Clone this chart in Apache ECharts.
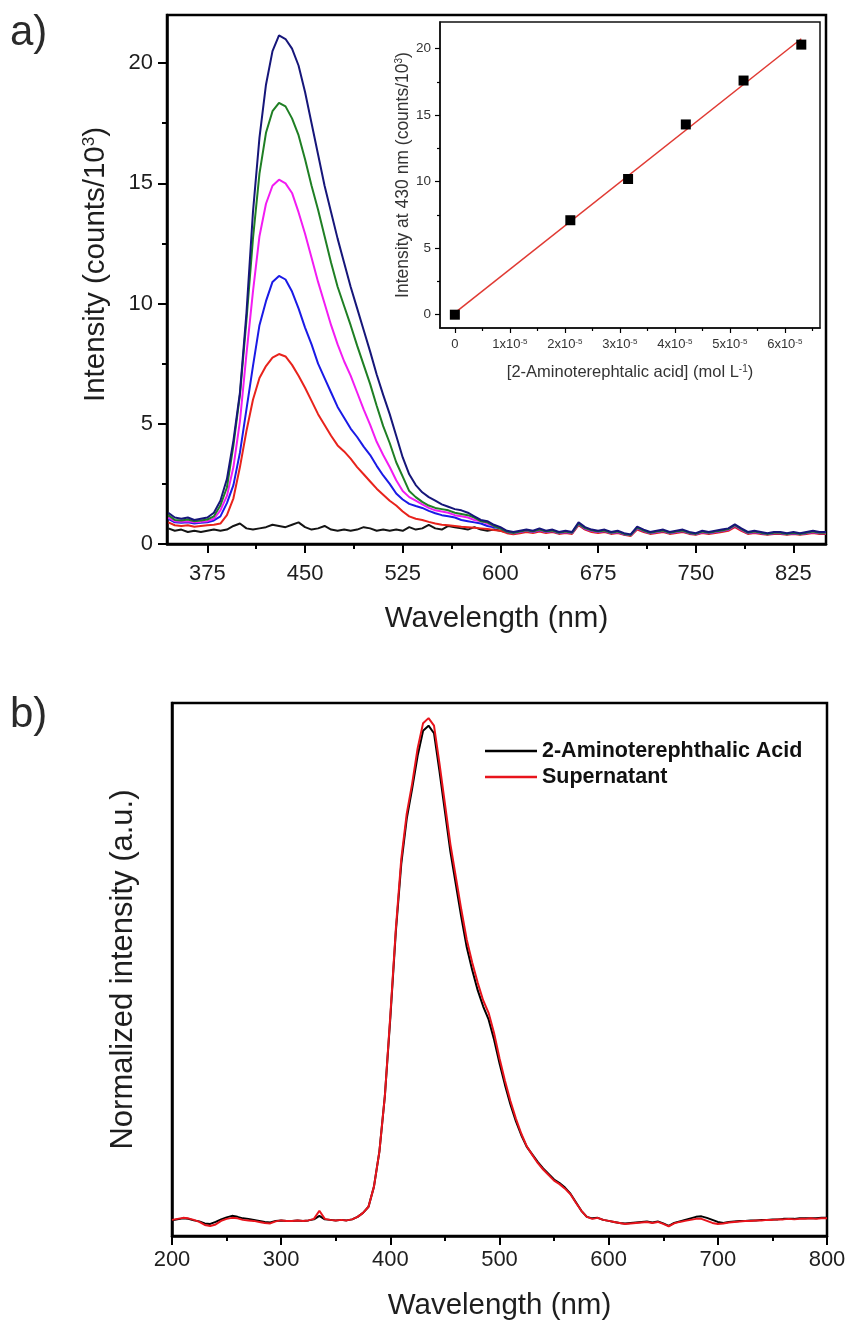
<!DOCTYPE html>
<html>
<head>
<meta charset="utf-8">
<script src="https://cdn.jsdelivr.net/npm/echarts@6/dist/echarts.min.js"></script>
<style>
  html, body { margin: 0; padding: 0; background: #fff; }
  #chart { width: 853px; height: 1324px; }
</style>
</head>
<body>
<div id="chart"></div>
<script>
// ---------- (a) emission spectra at increasing 2-aminoterephthalic acid content ----------
const wavelengthA = [
  345, 350, 355, 360, 365, 370, 375, 380, 385, 390,
  395, 400, 405, 410, 415, 420, 425, 430, 435, 440,
  445, 450, 455, 460, 465, 470, 475, 480, 485, 490,
  495, 500, 505, 510, 515, 520, 525, 530, 535, 540,
  545, 550, 555, 560, 565, 570, 575, 580, 585, 590,
  595, 600, 605, 610, 615, 620, 625, 630, 635, 640,
  645, 650, 655, 660, 665, 670, 675, 680, 685, 690,
  695, 700, 705, 710, 715, 720, 725, 730, 735, 740,
  745, 750, 755, 760, 765, 770, 775, 780, 785, 790,
  795, 800, 805, 810, 815, 820, 825, 830, 835, 840,
  845, 850
];

// intensity in counts/10^3
const blankA = [
  0.65, 0.55, 0.60, 0.50, 0.55, 0.50, 0.55, 0.60, 0.55, 0.60,
  0.75, 0.85, 0.65, 0.60, 0.65, 0.70, 0.80, 0.75, 0.70, 0.80,
  0.90, 0.70, 0.60, 0.65, 0.75, 0.60, 0.55, 0.60, 0.55, 0.60,
  0.70, 0.65, 0.55, 0.60, 0.55, 0.60, 0.55, 0.70, 0.60, 0.65,
  0.80, 0.65, 0.60, 0.75, 0.70, 0.65, 0.60, 0.70, 0.60, 0.55,
  0.60, 0.55, 0.50, 0.45, 0.48, 0.55, 0.50, 0.58, 0.50, 0.55,
  0.45, 0.50, 0.45, 0.82, 0.62, 0.55, 0.50, 0.55, 0.45, 0.50,
  0.40, 0.36, 0.65, 0.55, 0.45, 0.50, 0.55, 0.45, 0.50, 0.55,
  0.45, 0.42, 0.50, 0.45, 0.50, 0.55, 0.60, 0.75, 0.60, 0.45,
  0.50, 0.45, 0.42, 0.45, 0.45, 0.42, 0.45, 0.42, 0.45, 0.50,
  0.45, 0.45
];
const level1A = [
  0.90, 0.78, 0.75, 0.78, 0.72, 0.75, 0.78, 0.80, 0.85, 1.20,
  1.90, 3.20, 4.70, 6.00, 6.90, 7.40, 7.75, 7.90, 7.80, 7.45,
  7.00, 6.50, 5.95, 5.40, 4.95, 4.50, 4.10, 3.85, 3.55, 3.20,
  2.90, 2.60, 2.30, 2.05, 1.80, 1.60, 1.35, 1.15, 1.05, 1.00,
  0.92, 0.85, 0.80, 0.78, 0.75, 0.72, 0.70, 0.68, 0.65, 0.62,
  0.58, 0.55, 0.45, 0.40, 0.45, 0.50, 0.46, 0.52, 0.46, 0.50,
  0.42, 0.46, 0.42, 0.78, 0.60, 0.50, 0.46, 0.50, 0.42, 0.46,
  0.38, 0.33, 0.60, 0.50, 0.42, 0.46, 0.50, 0.42, 0.46, 0.50,
  0.42, 0.38, 0.46, 0.42, 0.46, 0.50, 0.55, 0.70, 0.55, 0.42,
  0.46, 0.42, 0.38, 0.42, 0.42, 0.38, 0.42, 0.38, 0.42, 0.46,
  0.42, 0.42
];
const level2A = [
  1.05, 0.90, 0.88, 0.90, 0.85, 0.88, 0.90, 0.98, 1.15, 1.70,
  2.45, 3.80, 5.60, 7.40, 9.10, 10.1, 10.9, 11.15, 11.0, 10.5,
  9.80, 9.00, 8.30, 7.50, 6.90, 6.30, 5.70, 5.25, 4.80, 4.45,
  4.05, 3.70, 3.25, 2.85, 2.50, 2.10, 1.85, 1.67, 1.58, 1.50,
  1.38, 1.28, 1.20, 1.15, 1.10, 1.00, 0.95, 0.90, 0.85, 0.75,
  0.70, 0.65, 0.50, 0.45, 0.50, 0.55, 0.50, 0.57, 0.50, 0.54,
  0.45, 0.50, 0.45, 0.82, 0.63, 0.55, 0.50, 0.54, 0.45, 0.50,
  0.40, 0.36, 0.65, 0.54, 0.45, 0.50, 0.54, 0.45, 0.50, 0.54,
  0.45, 0.40, 0.50, 0.45, 0.50, 0.54, 0.60, 0.75, 0.60, 0.45,
  0.50, 0.45, 0.40, 0.45, 0.45, 0.40, 0.45, 0.40, 0.45, 0.50,
  0.45, 0.45
];
const level3A = [
  1.10, 0.95, 0.92, 0.95, 0.90, 0.92, 0.95, 1.05, 1.40, 2.00,
  3.20, 5.10, 7.90, 10.5, 12.8, 14.15, 14.9, 15.15, 15.0, 14.6,
  13.8, 12.9, 11.9, 10.9, 10.0, 9.10, 8.30, 7.60, 7.00, 6.30,
  5.60, 4.95, 4.25, 3.70, 3.20, 2.65, 2.20, 1.95, 1.80, 1.65,
  1.50, 1.40, 1.35, 1.30, 1.20, 1.15, 1.10, 1.00, 0.95, 0.85,
  0.75, 0.68, 0.52, 0.45, 0.50, 0.56, 0.50, 0.58, 0.50, 0.55,
  0.46, 0.50, 0.46, 0.84, 0.64, 0.55, 0.50, 0.55, 0.46, 0.50,
  0.41, 0.36, 0.66, 0.55, 0.46, 0.50, 0.55, 0.46, 0.50, 0.55,
  0.46, 0.41, 0.50, 0.46, 0.50, 0.55, 0.60, 0.76, 0.60, 0.46,
  0.50, 0.46, 0.41, 0.46, 0.46, 0.41, 0.46, 0.41, 0.46, 0.50,
  0.46, 0.46
];
const level4A = [
  1.20, 1.00, 0.98, 1.02, 0.95, 0.98, 1.02, 1.15, 1.60, 2.35,
  4.10, 6.20, 9.30, 12.7, 15.4, 17.1, 18.0, 18.35, 18.2, 17.7,
  17.0, 16.0, 14.9, 13.9, 12.8, 11.7, 10.7, 9.90, 9.10, 8.25,
  7.45, 6.65, 5.75, 4.90, 4.20, 3.40, 2.80, 2.20, 1.95, 1.75,
  1.60, 1.50, 1.45, 1.40, 1.30, 1.25, 1.20, 1.10, 0.95, 0.90,
  0.75, 0.65, 0.52, 0.46, 0.52, 0.57, 0.52, 0.60, 0.52, 0.56,
  0.47, 0.52, 0.47, 0.85, 0.66, 0.57, 0.52, 0.56, 0.47, 0.52,
  0.42, 0.37, 0.68, 0.56, 0.47, 0.52, 0.56, 0.47, 0.52, 0.56,
  0.47, 0.42, 0.52, 0.47, 0.52, 0.56, 0.62, 0.78, 0.62, 0.47,
  0.52, 0.47, 0.42, 0.47, 0.47, 0.42, 0.47, 0.42, 0.47, 0.52,
  0.47, 0.47
];
const level5A = [
  1.30, 1.10, 1.05, 1.10, 1.00, 1.05, 1.10, 1.30, 1.80, 2.70,
  4.30, 6.30, 9.60, 13.8, 16.9, 19.1, 20.5, 21.15, 21.0, 20.6,
  19.9, 18.8, 17.5, 16.2, 14.9, 13.8, 12.7, 11.7, 10.7, 9.80,
  8.90, 8.00, 7.05, 6.20, 5.40, 4.50, 3.60, 2.90, 2.45, 2.15,
  1.95, 1.80, 1.65, 1.55, 1.45, 1.40, 1.30, 1.15, 1.00, 0.95,
  0.80, 0.70, 0.55, 0.50, 0.55, 0.60, 0.55, 0.65, 0.55, 0.60,
  0.50, 0.55, 0.50, 0.90, 0.70, 0.60, 0.55, 0.60, 0.50, 0.55,
  0.45, 0.40, 0.72, 0.60, 0.50, 0.55, 0.60, 0.50, 0.55, 0.60,
  0.50, 0.45, 0.55, 0.50, 0.55, 0.60, 0.65, 0.82, 0.65, 0.50,
  0.55, 0.50, 0.45, 0.50, 0.50, 0.45, 0.50, 0.45, 0.50, 0.55,
  0.50, 0.50
];

const xTicksA = [375, 450, 525, 600, 675, 750, 825];
const xMinorTicksA = [412.5, 487.5, 562.5, 637.5, 712.5, 787.5];
const yTicksA = [0, 5, 10, 15, 20];
const yMinorTicksA = [2.5, 7.5, 12.5, 17.5];

// ---------- inset: calibration at 430 nm ----------
const concentration = [0, 2.1, 3.15, 4.2, 5.25, 6.3];   // x 10^-5 mol/L
const intensity430 = [0, 7.1, 10.2, 14.3, 17.6, 20.3];  // counts/10^3
const xTicksInset = [0, 1, 2, 3, 4, 5, 6];
const xMinorTicksInset = [0.5, 1.5, 2.5, 3.5, 4.5, 5.5, 6.5];
const yTicksInset = [0, 5, 10, 15, 20];
const yMinorTicksInset = [2.5, 7.5, 12.5, 17.5];

// ---------- (b) normalized spectra ----------
const wavelengthB = [
  200, 205, 210, 215, 220, 225, 230, 235, 240, 245,
  250, 255, 260, 265, 270, 275, 280, 285, 290, 295,
  300, 305, 310, 315, 320, 325, 330, 335, 340, 345,
  350, 355, 360, 365, 370, 375, 380, 385, 390, 395,
  400, 405, 410, 415, 420, 425, 430, 435, 440, 445,
  450, 455, 460, 465, 470, 475, 480, 485, 490, 495,
  500, 505, 510, 515, 520, 525, 530, 535, 540, 545,
  550, 555, 560, 565, 570, 575, 580, 585, 590, 595,
  600, 605, 610, 615, 620, 625, 630, 635, 640, 645,
  650, 655, 660, 665, 670, 675, 680, 685, 690, 695,
  700, 705, 710, 715, 720, 725, 730, 735, 740, 745,
  750, 755, 760, 765, 770, 775, 780, 785, 790, 795,
  800
];
const acidB = [
  0.003, 0.005, 0.007, 0.006, 0.003, 0.001, -0.003, -0.004, 0.000, 0.005,
  0.009, 0.012, 0.010, 0.007, 0.006, 0.004, 0.002, 0.000, -0.001, 0.002,
  0.003, 0.002, 0.002, 0.003, 0.002, 0.003, 0.005, 0.012, 0.005, 0.004,
  0.003, 0.004, 0.003, 0.005, 0.010, 0.018, 0.030, 0.070, 0.140, 0.250,
  0.405, 0.575, 0.710, 0.800, 0.860, 0.925, 0.975, 0.985, 0.970, 0.895,
  0.815, 0.735, 0.670, 0.605, 0.545, 0.500, 0.460, 0.428, 0.402, 0.362,
  0.315, 0.272, 0.233, 0.200, 0.172, 0.149, 0.134, 0.119, 0.106, 0.095,
  0.084, 0.077, 0.068, 0.056, 0.039, 0.022, 0.010, 0.007, 0.008, 0.004,
  0.002, 0.000, -0.002, -0.003, -0.002, -0.001, 0.000, 0.001, -0.001, 0.001,
  -0.003, -0.008, -0.002, 0.001, 0.004, 0.007, 0.010, 0.011, 0.008, 0.004,
  0.000, -0.002, 0.000, 0.001, 0.002, 0.002, 0.003, 0.003, 0.004, 0.004,
  0.005, 0.005, 0.006, 0.006, 0.006, 0.007, 0.007, 0.007, 0.007, 0.008,
  0.008
];
const supernatantB = [
  0.004, 0.006, 0.008, 0.007, 0.004, 0.000, -0.006, -0.008, -0.005, 0.002,
  0.006, 0.008, 0.007, 0.004, 0.003, 0.002, 0.000, -0.002, -0.003, 0.001,
  0.003, 0.002, 0.002, 0.003, 0.002, 0.003, 0.006, 0.022, 0.006, 0.004,
  0.003, 0.004, 0.003, 0.005, 0.010, 0.018, 0.030, 0.070, 0.140, 0.250,
  0.410, 0.580, 0.720, 0.810, 0.870, 0.940, 0.990, 1.000, 0.985, 0.910,
  0.830, 0.750, 0.685, 0.620, 0.560, 0.515, 0.475, 0.440, 0.415, 0.375,
  0.325, 0.280, 0.240, 0.205, 0.175, 0.150, 0.133, 0.117, 0.104, 0.093,
  0.082, 0.075, 0.066, 0.055, 0.038, 0.022, 0.010, 0.006, 0.008, 0.004,
  0.002, 0.000, -0.002, -0.004, -0.003, -0.002, -0.001, 0.000, -0.002, 0.000,
  -0.004, -0.009, -0.003, 0.000, 0.002, 0.004, 0.006, 0.006, 0.002, -0.002,
  -0.004, -0.003, -0.001, 0.000, 0.001, 0.002, 0.002, 0.003, 0.003, 0.004,
  0.004, 0.005, 0.005, 0.006, 0.005, 0.006, 0.006, 0.007, 0.006, 0.007,
  0.007
];

// ---------- styling ----------
const FONT = '"Liberation Sans", Arial, sans-serif';
const INK = '#1e1e1e';

const pairs = (xs, ys) => xs.map((x, i) => [x, ys[i]]);

// least-squares line through the calibration points
function linearFit(xs, ys) {
  const n = xs.length;
  const mx = xs.reduce((a, b) => a + b, 0) / n;
  const my = ys.reduce((a, b) => a + b, 0) / n;
  let sxy = 0, sxx = 0;
  for (let i = 0; i < n; i++) {
    sxy += (xs[i] - mx) * (ys[i] - my);
    sxx += (xs[i] - mx) * (xs[i] - mx);
  }
  const slope = sxy / sxx;
  return { slope, intercept: my - slope * mx };
}
const fit = linearFit(concentration, intensity430);
const xFirst = concentration[0];
const xLast = concentration[concentration.length - 1];
const fitLine = [
  [xFirst, fit.intercept + fit.slope * xFirst],
  [xLast, fit.intercept + fit.slope * xLast]
];

const supRich = (size, supSize, color) => ({
  t: { fontSize: size, color, fontFamily: FONT },
  s: { fontSize: supSize, color, fontFamily: FONT, verticalAlign: 'top' }
});

function majorMinorAxis(base, ticks, minor, tickLen, minorLen, tickWidth) {
  return [
    Object.assign({}, base, {
      axisTick: { show: true, inside: false, length: tickLen, customValues: ticks,
                  lineStyle: { color: '#000', width: tickWidth } }
    }),
    {
      gridIndex: base.gridIndex, type: 'value', min: base.min, max: base.max,
      position: base.position,
      axisLine: { show: false, onZero: false },
      axisTick: { show: true, inside: false, length: minorLen, customValues: minor,
                  lineStyle: { color: '#000', width: tickWidth } },
      axisLabel: { show: false },
      splitLine: { show: false }
    }
  ];
}

const mainX = majorMinorAxis({
  gridIndex: 0, type: 'value', min: 344, max: 850, position: 'bottom',
  axisLine: { show: true, onZero: false, lineStyle: { color: '#000', width: 2.5 } },
  axisLabel: { customValues: xTicksA, margin: 19, fontSize: 22, color: INK, fontFamily: FONT },
  splitLine: { show: false },
  name: 'Wavelength (nm)', nameLocation: 'middle', nameGap: 60,
  nameTextStyle: { fontSize: 29.5, color: INK, fontFamily: FONT }
}, xTicksA, xMinorTicksA, 9, 5, 2);

const mainY = majorMinorAxis({
  gridIndex: 0, type: 'value', min: 0, max: 22, position: 'left',
  axisLine: { show: true, onZero: false, lineStyle: { color: '#000', width: 2.5 } },
  axisLabel: { customValues: yTicksA, margin: 14, fontSize: 22, color: INK, fontFamily: FONT },
  splitLine: { show: false },
  name: '{t|Intensity (counts/10}{s|3}{t|)}', nameLocation: 'middle', nameGap: 56,
  nameTextStyle: { rich: supRich(29.5, 17, INK), padding: [0, 0, 0, 30] }
}, yTicksA, yMinorTicksA, 9, 5, 2);

const insetX = majorMinorAxis({
  gridIndex: 1, type: 'value', min: -0.27, max: 6.64, position: 'bottom',
  axisLine: { show: true, onZero: false, lineStyle: { color: '#111', width: 1.5 } },
  axisLabel: {
    customValues: xTicksInset, margin: 10, fontSize: 13, color: '#333', fontFamily: FONT,
    formatter: v => (v === 0 ? '0' : '{b|' + Math.round(v) + 'x10}{s|-5}'),
    rich: {
      b: { fontSize: 13, color: '#333', fontFamily: FONT },
      s: { fontSize: 8, color: '#333', fontFamily: FONT, verticalAlign: 'top' }
    }
  },
  splitLine: { show: false },
  name: '{t|[2-Aminoterephtalic acid] (mol L}{s|-1}{t|)}', nameLocation: 'middle', nameGap: 36,
  nameTextStyle: { rich: supRich(16.5, 10, '#333') }
}, xTicksInset, xMinorTicksInset, 5, 3, 1.2);

const insetY = majorMinorAxis({
  gridIndex: 1, type: 'value', min: -1, max: 22, position: 'left',
  axisLine: { show: true, onZero: false, lineStyle: { color: '#111', width: 1.5 } },
  axisLabel: { customValues: yTicksInset, margin: 9, fontSize: 13.5, color: '#333', fontFamily: FONT },
  splitLine: { show: false },
  name: '{t|Intensity at 430 nm (counts/10}{s|3}{t|)}', nameLocation: 'middle', nameGap: 25,
  nameTextStyle: { rich: supRich(17.5, 10, '#333') }
}, yTicksInset, yMinorTicksInset, 5, 3, 1.2);

const bottomX = {
  gridIndex: 2, type: 'value', min: 200, max: 800, interval: 100, position: 'bottom',
  axisLine: { show: true, onZero: false, lineStyle: { color: '#000', width: 2.5 } },
  axisTick: { show: true, inside: false, length: 9, lineStyle: { color: '#000', width: 2 } },
  minorTick: { show: true, splitNumber: 2, length: 5, lineStyle: { color: '#000', width: 2 } },
  axisLabel: { margin: 13, fontSize: 22, color: INK, fontFamily: FONT },
  splitLine: { show: false },
  name: 'Wavelength (nm)', nameLocation: 'middle', nameGap: 55,
  nameTextStyle: { fontSize: 29.5, color: INK, fontFamily: FONT }
};
const bottomY = {
  gridIndex: 2, type: 'value', min: -0.028, max: 1.03, position: 'left',
  axisLine: { show: true, onZero: false, lineStyle: { color: '#000', width: 2.5 } },
  axisTick: { show: false }, axisLabel: { show: false }, splitLine: { show: false },
  name: 'Normalized intensity (a.u.)', nameLocation: 'middle', nameGap: 33,
  nameTextStyle: { fontSize: 31, color: INK, fontFamily: FONT }
};

const spectrum = (name, ys, color, xi, yi, z) => ({
  name, type: 'line', xAxisIndex: xi, yAxisIndex: yi,
  data: pairs(xi === 0 ? wavelengthA : wavelengthB, ys),
  showSymbol: false, symbol: 'none', silent: true, z: z || 2,
  lineStyle: { color, width: 2 }, itemStyle: { color }
});

const option = {
  animation: false,
  backgroundColor: '#fff',
  textStyle: { fontFamily: FONT },
  grid: [
    { left: 167, top: 15, width: 659, height: 529, show: true, borderColor: '#000', borderWidth: 2.5,
      backgroundColor: 'transparent', containLabel: false },
    { left: 440, top: 22, width: 380, height: 306, show: true, borderColor: '#111', borderWidth: 1.5,
      backgroundColor: '#fff', containLabel: false },
    { left: 172, top: 703, width: 655, height: 533, show: true, borderColor: '#000', borderWidth: 2.5,
      backgroundColor: 'transparent', containLabel: false }
  ],
  xAxis: [...mainX, ...insetX, bottomX],
  yAxis: [...mainY, ...insetY, bottomY],
  legend: {
    data: [
      { name: '2-Aminoterephthalic Acid', icon: 'rect', itemStyle: { color: '#000' } },
      { name: 'Supernatant', icon: 'rect', itemStyle: { color: '#e8141c' } }
    ],
    orient: 'vertical', left: 480, top: 734,
    itemWidth: 52, itemHeight: 2.5, itemGap: 2,
    textStyle: { fontSize: 21.5, fontWeight: 'bold', color: '#111', fontFamily: FONT, lineHeight: 24 },
    selectedMode: false
  },
  graphic: [
    { type: 'text', left: 10, top: 12, style: { text: 'a)', fontSize: 42, fill: '#2a2a2a', fontFamily: FONT } },
    { type: 'text', left: 10, top: 694, style: { text: 'b)', fontSize: 42, fill: '#2a2a2a', fontFamily: FONT } }
  ],
  series: [
    spectrum('blank', blankA, '#141414', 0, 0, 2),
    spectrum('level 1', level1A, '#e8231c', 0, 0, 3),
    spectrum('level 2', level2A, '#1a1ae6', 0, 0, 4),
    spectrum('level 3', level3A, '#f21cf2', 0, 0, 5),
    spectrum('level 4', level4A, '#1f7f24', 0, 0, 6),
    spectrum('level 5', level5A, '#16167a', 0, 0, 7),
    {
      name: 'fit', type: 'line', xAxisIndex: 2, yAxisIndex: 2, data: fitLine,
      showSymbol: false, symbol: 'none', silent: true, z: 8,
      lineStyle: { color: '#e03a33', width: 1.5 }
    },
    {
      name: 'calibration', type: 'scatter', xAxisIndex: 2, yAxisIndex: 2,
      data: pairs(concentration, intensity430),
      symbol: 'rect', symbolSize: 10, silent: true, z: 9,
      itemStyle: { color: '#000', opacity: 1 }
    },
    spectrum('2-Aminoterephthalic Acid', acidB, '#000000', 4, 4, 2),
    spectrum('Supernatant', supernatantB, '#e8141c', 4, 4, 3)
  ]
};

const chart = echarts.init(document.getElementById('chart'), null, { renderer: 'canvas' });
chart.setOption(option);
</script>
</body>
</html>
